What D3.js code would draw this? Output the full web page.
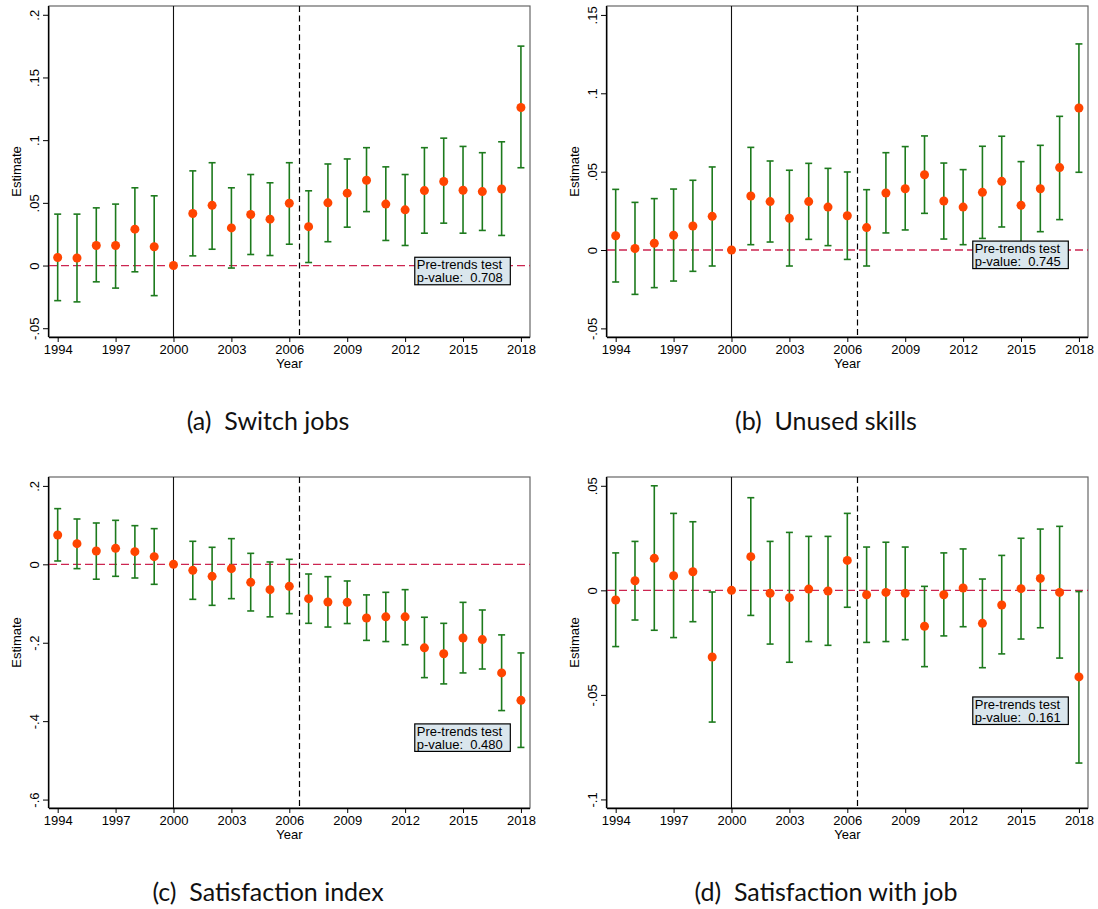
<!DOCTYPE html>
<html>
<head>
<meta charset="utf-8">
<script src="https://cdn.jsdelivr.net/npm/d3@7"></script>
<style>
  html, body { margin: 0; padding: 0; background: #fff; }
  svg { display: block; }
</style>
</head>
<body>
<svg id="chart" width="1098" height="909"></svg>
<script>
// ---------- data ----------
const years = [1994,1995,1996,1997,1998,1999,2000,2001,2002,2003,2004,2005,2006,2007,2008,2009,2010,2011,2012,2013,2014,2015,2016,2017,2018];
const xTicks = [1994,1997,2000,2003,2006,2009,2012,2015,2018];

// (a) Switch jobs
const switchEst = [0.0064,0.006,0.016,0.016,0.029,0.015,0,0.0415,0.048,0.030,0.0407,0.037,0.0497,0.031,0.050,0.0577,0.068,0.049,0.0444,0.0598,0.067,0.060,0.059,0.061,0.126];
const switchHi  = [0.041,0.041,0.046,0.049,0.062,0.0556,null,0.0755,0.082,0.062,0.0726,0.066,0.082,0.0596,0.081,0.085,0.094,0.0787,0.0726,0.094,0.1016,0.095,0.090,0.0987,0.175];
const switchLo  = [-0.028,-0.029,-0.013,-0.018,-0.005,-0.024,null,0.0077,0.013,-0.002,0.0088,0.008,0.017,0.0024,0.019,0.0306,0.043,0.020,0.016,0.0258,0.0338,0.0258,0.028,0.024,0.078];
const switchTicks = [-0.05,0,0.05,0.1,0.15,0.2];
const switchTickLabels = ["-.05","0",".05",".1",".15",".2"];

// (b) Unused skills
const skillsEst = [0.0091,0.001,0.0043,0.0094,0.0153,0.0215,0,0.0345,0.0309,0.0202,0.0309,0.0274,0.0219,0.0143,0.0364,0.0391,0.048,0.0313,0.0274,0.0368,0.0438,0.0285,0.0391,0.0526,0.0906];
const skillsHi  = [0.0387,0.0304,0.0328,0.0389,0.0445,0.053,null,0.0655,0.0568,0.0509,0.0553,0.0521,0.0498,0.0385,0.0621,0.066,0.0728,0.0555,0.0513,0.0662,0.0726,0.0564,0.0668,0.0853,0.1315];
const skillsLo  = [-0.0204,-0.0283,-0.024,-0.0198,-0.0136,-0.0102,null,0.0034,0.0051,-0.0102,0.0068,0.0028,-0.006,-0.0102,0.0109,0.0128,0.0234,0.007,0.0034,0.0074,0.0147,0.0006,0.0117,0.0194,0.0496];
const skillsTicks = [-0.05,0,0.05,0.1,0.15];
const skillsTickLabels = ["-.05","0",".05",".1",".15"];

// (c) Satisfaction index
const indexEst = [0.0748,0.0527,0.034,0.0408,0.0323,0.0196,0,-0.0153,-0.0306,-0.011,-0.0459,-0.0646,-0.0561,-0.0876,-0.096,-0.097,-0.137,-0.134,-0.134,-0.213,-0.228,-0.188,-0.192,-0.277,-0.347];
const indexHi  = [0.142,0.1156,0.1054,0.1122,0.0986,0.091,null,0.0587,0.0434,0.0655,0.028,0.006,0.0128,-0.0247,-0.0315,-0.0425,-0.078,-0.0714,-0.0646,-0.135,-0.1505,-0.097,-0.1165,-0.18,-0.226];
const indexLo  = [0.0085,-0.011,-0.038,-0.0306,-0.0349,-0.051,null,-0.0893,-0.1046,-0.0876,-0.119,-0.134,-0.1258,-0.1505,-0.16,-0.151,-0.194,-0.197,-0.205,-0.289,-0.305,-0.277,-0.267,-0.373,-0.467];
const indexTicks = [-0.6,-0.4,-0.2,0,0.2];
const indexTickLabels = ["-.6","-.4","-.2","0",".2"];

// (d) Satisfaction with job
const jobEst = [-0.0046,0.0046,0.0153,0.007,0.0089,-0.0319,0,0.0161,-0.0014,-0.0035,0.0006,-0.0003,0.0143,-0.0021,-0.001,-0.0014,-0.0172,-0.0021,0.0011,-0.0158,-0.007,0.0008,0.0057,-0.001,-0.0414];
const jobHi  = [0.0179,0.0234,0.05,0.0368,0.0328,-0.0008,null,0.0443,0.0234,0.0277,0.0258,0.0258,0.0368,0.0207,0.023,0.0207,0.0019,0.0179,0.0198,0.0054,0.0167,0.0249,0.0293,0.0306,-0.0006];
const jobLo  = [-0.0269,-0.0142,-0.0191,-0.0226,-0.015,-0.063,null,-0.012,-0.0257,-0.0344,-0.0245,-0.0263,-0.0081,-0.0249,-0.0245,-0.0236,-0.0365,-0.0218,-0.0174,-0.037,-0.0304,-0.0233,-0.0179,-0.0324,-0.0826];
const jobTicks = [-0.1,-0.05,0,0.05];
const jobTickLabels = ["-.1","-.05","0",".05"];

const captions = ["(a)  Switch jobs","(b)  Unused skills","(c)  Satisfaction index","(d)  Satisfaction with job"];
const pValues = ["0.708","0.745","0.480","0.161"];
const yDomains = [[-0.057,0.207],[-0.0555,0.1557],[-0.6215,0.2227],[-0.1041,0.0542]];
const boxTopValues = [0.0066,0.0057,-0.407,-0.051];

// ---------- layout ----------
const panels = [
  {est: switchEst, lo: switchLo, hi: switchHi, ticks: switchTicks, labels: switchTickLabels, left: 49, top: 6, capX: 268},
  {est: skillsEst, lo: skillsLo, hi: skillsHi, ticks: skillsTicks, labels: skillsTickLabels, left: 607, top: 6, capX: 826},
  {est: indexEst, lo: indexLo, hi: indexHi, ticks: indexTicks, labels: indexTickLabels, left: 49, top: 477, capX: 268},
  {est: jobEst, lo: jobLo, hi: jobHi, ticks: jobTicks, labels: jobTickLabels, left: 607, top: 477, capX: 826}
];
const W = 481, H = 331;
const svg = d3.select("#chart");
const tickFont = "'Liberation Sans', Arial, sans-serif";
const green = "#1d7a1d";
const dot = "#ff4500";

panels.forEach((p, i) => {
  const g = svg.append("g").attr("transform", `translate(${p.left},${p.top})`);
  const x = d3.scaleLinear().domain([1993.55, 2018.47]).range([0, W]);
  const y = d3.scaleLinear().domain(yDomains[i]).range([H, 0]);

  // frame
  g.append("rect").attr("x", 0).attr("y", 0).attr("width", W).attr("height", H)
    .attr("fill", "none").attr("stroke", "#666").attr("stroke-width", 1.2);

  // zero line
  g.append("line").attr("x1", 0).attr("x2", W).attr("y1", y(0)).attr("y2", y(0))
    .attr("stroke", "#cc2550").attr("stroke-width", 1.3).attr("stroke-dasharray", "8,4");

  // vertical lines
  g.append("line").attr("x1", x(2000)).attr("x2", x(2000)).attr("y1", 0).attr("y2", H)
    .attr("stroke", "#111").attr("stroke-width", 1.1);
  const xd = Math.round(x(2006.5)) + 0.5;
  g.append("line").attr("x1", xd).attr("x2", xd).attr("y1", 0).attr("y2", H)
    .attr("stroke", "#000").attr("stroke-width", 1.2).attr("stroke-dasharray", "6,3.5");

  // axes
  const yAxis = d3.axisLeft(y).tickValues(p.ticks).tickSize(6).tickFormat((d, k) => p.labels[k]);
  const ya = g.append("g").call(yAxis);
  ya.select(".domain").attr("stroke", "#000").attr("stroke-width", 1.3).attr("d", `M-0.5,${H}V0`);
  ya.selectAll(".tick line").attr("stroke", "#000");
  ya.selectAll(".tick text")
    .attr("font-family", tickFont).attr("font-size", 13).attr("fill", "#000")
    .attr("transform", "rotate(-90)")
    .attr("x", 0).attr("y", -10).attr("dy", "0").attr("text-anchor", "middle");

  const xAxis = d3.axisBottom(x).tickValues(xTicks).tickSize(5).tickFormat(d3.format("d"));
  const xa = g.append("g").attr("transform", `translate(0,${H})`).call(xAxis);
  xa.select(".domain").attr("stroke", "#000").attr("stroke-width", 1.3).attr("d", `M0,0.5H${W}`);
  xa.selectAll(".tick line").attr("stroke", "#000");
  xa.selectAll(".tick text").attr("font-family", tickFont).attr("font-size", 13).attr("fill", "#000")
    .attr("y", 8).attr("dy", "0.71em");

  // axis titles
  g.append("text").attr("x", W / 2).attr("y", H + 31).attr("text-anchor", "middle")
    .attr("font-family", tickFont).attr("font-size", 13).text("Year");
  g.append("text").attr("transform", `translate(-28,${H / 2}) rotate(-90)`).attr("text-anchor", "middle")
    .attr("font-family", tickFont).attr("font-size", 13).text("Estimate");

  // error bars
  const rows = years.map((yr, k) => ({yr, est: p.est[k], lo: p.lo[k], hi: p.hi[k]}));
  const ci = rows.filter(r => r.lo !== null);
  const eb = g.append("g").attr("stroke", green).attr("stroke-width", 1.6);
  eb.selectAll(".v").data(ci).join("line")
    .attr("x1", d => x(d.yr)).attr("x2", d => x(d.yr)).attr("y1", d => y(d.lo)).attr("y2", d => y(d.hi));
  eb.selectAll(".t").data(ci).join("line")
    .attr("x1", d => x(d.yr) - 3.5).attr("x2", d => x(d.yr) + 3.5).attr("y1", d => y(d.hi)).attr("y2", d => y(d.hi));
  eb.selectAll(".b").data(ci).join("line")
    .attr("x1", d => x(d.yr) - 3.5).attr("x2", d => x(d.yr) + 3.5).attr("y1", d => y(d.lo)).attr("y2", d => y(d.lo));

  // points
  g.append("g").selectAll("circle").data(rows).join("circle")
    .attr("cx", d => x(d.yr)).attr("cy", d => y(d.est)).attr("r", 4.5).attr("fill", dot);

  // pre-trends box
  const bx = x(2012.5), by = y(boxTopValues[i]);
  const bw = x(2017.45) - x(2012.5);
  g.append("rect").attr("x", bx).attr("y", by).attr("width", bw).attr("height", 27.5)
    .attr("fill", "#dae6ed").attr("stroke", "#000").attr("stroke-width", 1.2);
  g.append("text").attr("x", bx + 2).attr("y", by + 12).attr("font-family", tickFont).attr("font-size", 13)
    .text("Pre-trends test");
  g.append("text").attr("x", bx + 2).attr("y", by + 25).attr("font-family", tickFont).attr("font-size", 13)
    .attr("xml:space", "preserve").style("white-space", "pre").text("p-value:  " + pValues[i]);

  // caption
  svg.append("text").attr("x", p.capX).attr("y", p.top + 424).attr("text-anchor", "middle")
    .attr("font-family", "Lato, 'Open Sans', sans-serif").attr("font-size", 25).attr("fill", "#111")
    .style("white-space", "pre").text(captions[i]);
});
</script>
</body>
</html>
